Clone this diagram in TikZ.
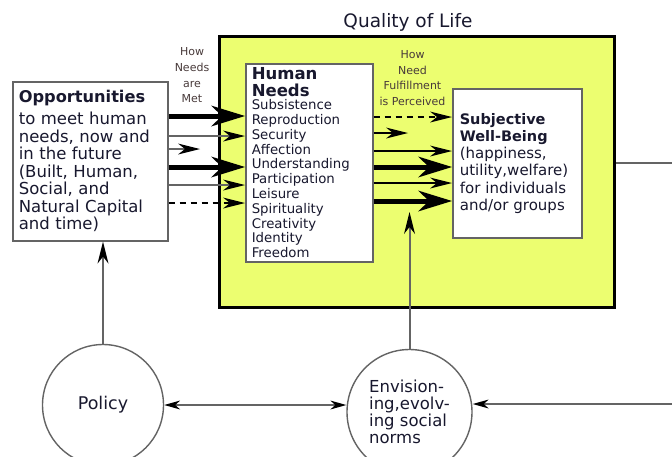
\documentclass[tikz,border=0pt]{standalone}
\usepackage{fontspec}
\setmainfont{DejaVu Sans}
\usetikzlibrary{arrows.meta}
\definecolor{qolyellow}{RGB}{236,254,112}
\definecolor{ink}{RGB}{24,24,46}
\definecolor{labelink}{RGB}{72,58,58}
\definecolor{edgegray}{RGB}{100,100,100}

\begin{document}
\begin{tikzpicture}[x=1pt, y=-1pt,
		box/.style={draw=edgegray, line width=1.6pt, fill=white, anchor=north west, text=ink, align=left},
		howlabel/.style={text=labelink, align=center, inner sep=0pt, font=\fontsize{11}{15.7}\selectfont},
		norm/.style={circle, draw=edgegray, line width=1.4pt, fill=white, text=ink, align=left, inner sep=0pt},
		fatflow/.style={line width=5pt, -{Stealth[length=34pt, width=21pt, inset=11pt, line width=0pt]}},
		midflow/.style={draw=edgegray, line width=2pt, -{Stealth[black, length=22pt, width=11pt, inset=7pt, line width=0pt]}},
		outflow/.style={midflow, draw=black, line width=1.5pt},
		dashflow/.style={outflow, dash pattern=on 6pt off 5pt},
		>={Stealth[black, length=16pt, width=9pt, inset=5pt, line width=0pt]},
		linkarrow/.style={draw=edgegray, line width=1.2pt, ->},
	]
		\useasboundingbox (0,0) rectangle (672,456);
		\clip (0,0) rectangle (672,456);

		\node[fill=qolyellow, draw=black, line width=3pt, anchor=north west, inner sep=0pt,
			minimum width=395pt, minimum height=271pt] (qol) at (218,35) {};
		\node[text=ink, anchor=base, font=\fontsize{18.5}{20}\selectfont] (qoltitle) at (408,27.7) {Quality of Life};

		\node[box, minimum width=155pt, minimum height=159pt, text width=143pt, inner xsep=6pt,
			font=\fontsize{16.5}{17.5}\selectfont] (opp) at (12,81)
			{{\bfseries\fontsize{16.2}{17.5}\selectfont Opportunities}\\[4.5pt] to meet human\\ needs, now and\\ in the future\\ (Built, Human,\\ Social, and\\ Natural Capital\\ and time)};
		\node[box, minimum width=127pt, minimum height=198pt, text width=115pt, inner xsep=6pt,
			font=\fontsize{13.3}{14.8}\selectfont] (needs) at (245,63)
			{{\bfseries\fontsize{16.5}{17}\selectfont Human\\[2pt] Needs}\\[-1.5pt] Subsistence\\ Reproduction\\ Security\\ Affection\\ Understanding\\ Participation\\ Leisure\\ Spirituality\\ Creativity\\ Identity\\ Freedom};
		\node[box, minimum width=129pt, minimum height=149pt, text width=115pt, inner xsep=7pt,
			font=\fontsize{15}{17.2}\selectfont] (wb) at (452,88)
			{{\bfseries\fontsize{14.5}{17.2}\selectfont Subjective\\ Well-Being}\\ (happiness,\\ utility,welfare)\\ for individuals\\ and/or groups};

		\node[howlabel] (howmet) at (192,75.5) {How\\Needs\\are\\Met};
		\node[howlabel] (howfelt) at (412.5,78) {How\\Need\\Fulfillment\\is Perceived};

		\node[norm, minimum size=121pt, font=\fontsize{17.5}{20}\selectfont] (policy) at (103,405) {Policy};
		\node[norm, minimum size=125pt, font=\fontsize{16.5}{17}\selectfont] (envision) at (409.5,412) {Envision-\\ing,evolv-\\ing social\\norms};

		% how needs are met
		\draw[fatflow] (opp.east |- 0,116) -- (needs.west |- 0,116);
		\draw[midflow] (opp.east |- 0,136) -- (needs.west |- 0,136);
		\coordinate (shortin) at (200,149);
		\draw[midflow] (opp.east |- shortin) -- (shortin);
		\draw[fatflow] (opp.east |- 0,167) -- (needs.west |- 0,167);
		\draw[midflow] (opp.east |- 0,185) -- (needs.west |- 0,185);
		\draw[dashflow] (opp.east |- 0,203) -- (needs.west |- 0,203);

		% how fulfillment is perceived
		\draw[dashflow] (needs.east |- 0,117) -- (wb.west |- 0,117);
		\coordinate (shortout) at (408,133);
		\draw[outflow] (needs.east |- shortout) -- (shortout);
		\draw[outflow] (needs.east |- 0,151) -- (wb.west |- 0,151);
		\draw[fatflow] (needs.east |- 0,167) -- (wb.west |- 0,167);
		\draw[outflow] (needs.east |- 0,183) -- (wb.west |- 0,183);
		\draw[fatflow] (needs.east |- 0,201) -- (wb.west |- 0,201);

		\draw[midflow] (policy.north) -- (policy.north |- opp.south);
		\coordinate (tipup) at (409.5,212);
		\draw[midflow] (envision.north) -- (tipup);

		\coordinate (offright) at (672,163);
		\draw[draw=edgegray, line width=1.2pt] (qol.east |- offright) -- (offright);
		\coordinate (offbottom) at (672,404);
		\draw[linkarrow] (offbottom) -- (envision.east |- offbottom);
		\draw[linkarrow, <->] (policy.east) -- (envision.west |- policy.east);
	\end{tikzpicture}
\end{document}
